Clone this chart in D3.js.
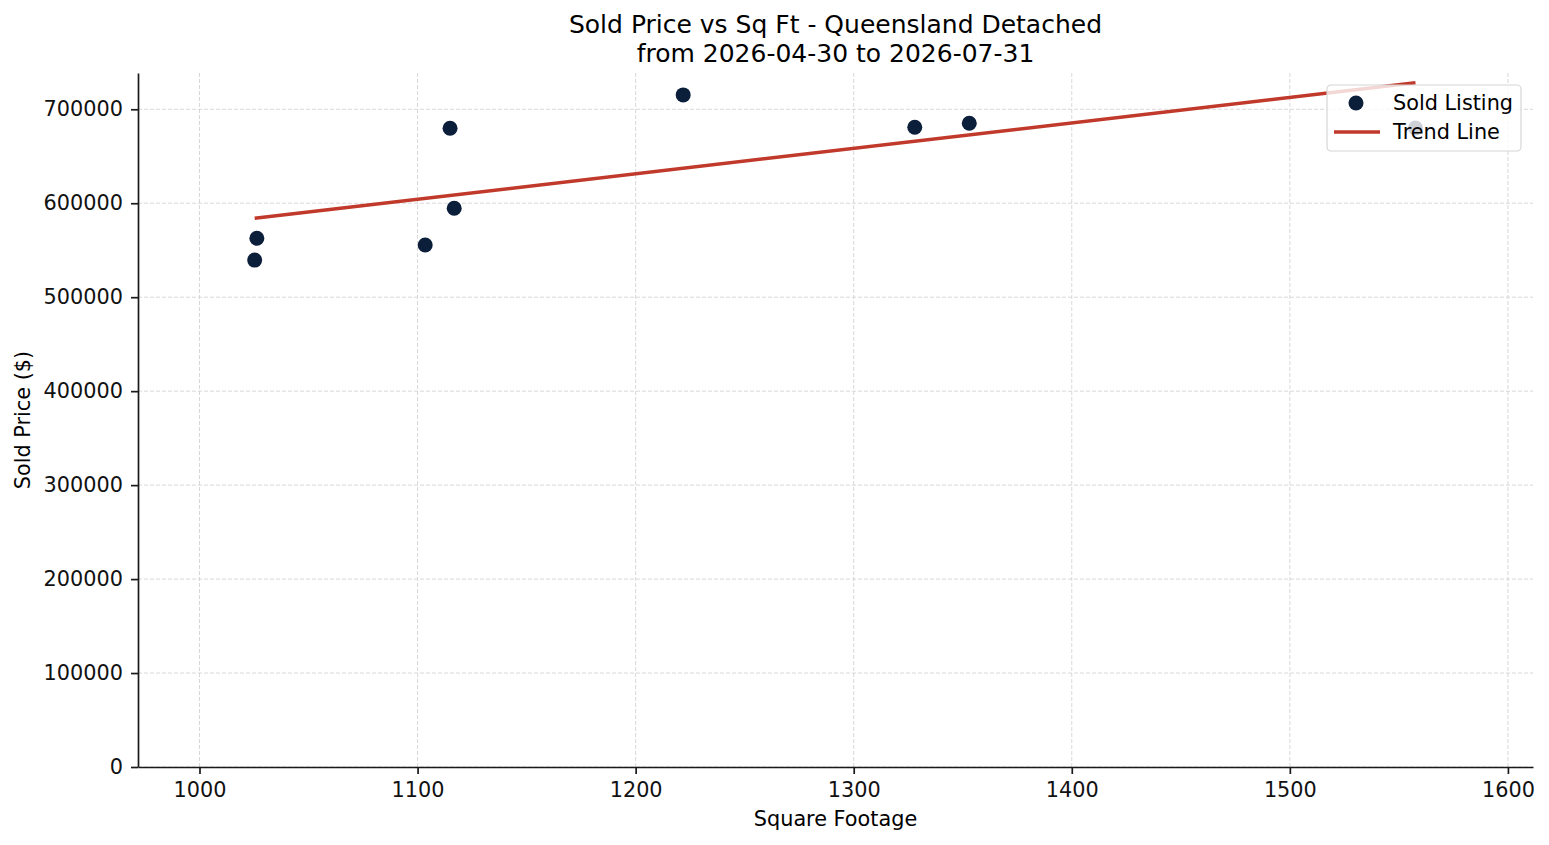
<!DOCTYPE html>
<html>
<head>
<meta charset="utf-8">
<script src="https://cdn.jsdelivr.net/npm/d3@7"></script>
<style>
  body { margin: 0; background: #fff; }
  svg { font-family: "DejaVu Sans", sans-serif; }
</style>
</head>
<body>
<div id="chart"></div>
<script>
// sold listings
var sqft  = [1025.3, 1026.3, 1103.5, 1114.9, 1116.8, 1221.8, 1328.0, 1353.0, 1557.6]
var price = [539500, 562700, 555500, 679800, 594600, 715300, 680900, 685100, 680000]

// trend line end points
var trendX = [1025.3, 1557.6]
var trendY = [584000, 728200]

var xTicks = [1000, 1100, 1200, 1300, 1400, 1500, 1600]
var yTicks = [0, 100000, 200000, 300000, 400000, 500000, 600000, 700000]

var titleLines = ["Sold Price vs Sq Ft - Queensland Detached", "from 2026-04-30 to 2026-07-31"]
var legendLabels = ["Sold Listing", "Trend Line"]

var width = 1549, height = 845
var margin = { top: 73, right: 16, bottom: 78, left: 138 }
var pointColor = "#0b1e3a", trendColor = "#c0392b"
var fs = "20.8px"

var svg = d3.select('#chart').append('svg')
    .attr('width', width)
    .attr('height', height)

var x = d3.scaleLinear()
    .domain([971.8, 1611.5])
    .range([margin.left, width - margin.right])
var y = d3.scaleLinear()
    .domain([0, 738600])
    .range([height - margin.bottom, margin.top])

// grid
svg.append("g").selectAll("line")
    .data(xTicks)
    .enter().append("line")
    .attr("x1", function(d){return x(d);})
    .attr("x2", function(d){return x(d);})
    .attr("y1", y.range()[0])
    .attr("y2", y.range()[1])
    .attr("stroke", "#d4d4d4")
    .attr("stroke-width", 0.9)
    .attr("stroke-dasharray", "4,2")
svg.append("g").selectAll("line")
    .data(yTicks)
    .enter().append("line")
    .attr("x1", x.range()[0])
    .attr("x2", x.range()[1])
    .attr("y1", function(d){return y(d);})
    .attr("y2", function(d){return y(d);})
    .attr("stroke", "#d4d4d4")
    .attr("stroke-width", 0.9)
    .attr("stroke-dasharray", "4,2")

// axes
var xAxis = d3.axisBottom(x).tickValues(xTicks).tickSize(7).tickPadding(8).tickSizeOuter(0)
    .tickFormat(d3.format("d"))
var yAxis = d3.axisLeft(y).tickValues(yTicks).tickSize(7).tickPadding(8).tickSizeOuter(0)
    .tickFormat(d3.format("d"))

var gx = svg.append("g")
    .attr("transform", "translate(0," + y.range()[0] + ")")
    .call(xAxis)
var gy = svg.append("g")
    .attr("transform", "translate(" + x.range()[0] + ",0)")
    .call(yAxis)

svg.selectAll(".domain, .tick line")
    .attr("stroke", "#1a1a1a")
    .attr("stroke-width", 1.7)
svg.selectAll(".tick text")
    .attr("fill", "#111")
    .style("font-size", fs)
    .style("font-family", "DejaVu Sans")

svg.append("text")
    .attr("x", (x.range()[0] + x.range()[1]) / 2)
    .attr("y", 826)
    .attr("text-anchor", "middle")
    .style("font-size", fs)
    .text("Square Footage")

svg.append("text")
    .attr("transform", "translate(30," + ((y.range()[0] + y.range()[1]) / 2) + ") rotate(-90)")
    .attr("text-anchor", "middle")
    .style("font-size", fs)
    .text("Sold Price ($)")

// title
svg.append("g").selectAll("text")
    .data(titleLines)
    .enter().append("text")
    .attr("x", (x.range()[0] + x.range()[1]) / 2)
    .attr("y", function(d, i){return 33 + i * 29;})
    .attr("text-anchor", "middle")
    .style("font-size", "25px")
    .text(function(d){return d;})

// points
var pts = sqft.map(function(d, i){return [d, price[i]];})
svg.append("g").selectAll("circle")
    .data(pts)
    .enter().append("circle")
    .attr("cx", function(d){return x(d[0]);})
    .attr("cy", function(d){return y(d[1]);})
    .attr("r", 7.5)
    .attr("fill", pointColor)

// trend
var line = d3.line()
    .x(function(d){return x(d[0]);})
    .y(function(d){return y(d[1]);})
svg.append("path")
    .datum(trendX.map(function(d, i){return [d, trendY[i]];}))
    .attr("d", line)
    .attr("fill", "none")
    .attr("stroke", trendColor)
    .attr("stroke-width", 3.5)

// legend
var lg = svg.append("g").attr("transform", "translate(1327,85)")
lg.append("rect")
    .attr("width", 194)
    .attr("height", 66)
    .attr("rx", 4)
    .attr("fill", "#fff")
    .attr("fill-opacity", 0.8)
    .attr("stroke", "#d6d6d6")
    .attr("stroke-width", 1.2)
lg.append("circle")
    .attr("cx", 29)
    .attr("cy", 18)
    .attr("r", 7.5)
    .attr("fill", pointColor)
lg.append("line")
    .attr("x1", 7)
    .attr("x2", 53)
    .attr("y1", 47)
    .attr("y2", 47)
    .attr("stroke", trendColor)
    .attr("stroke-width", 3.5)
lg.selectAll("text.lbl")
    .data(legendLabels)
    .enter().append("text")
    .attr("class", "lbl")
    .attr("x", 66)
    .attr("y", function(d, i){return 25 + i * 29;})
    .style("font-size", fs)
    .text(function(d){return d;})
</script>
</body>
</html>
